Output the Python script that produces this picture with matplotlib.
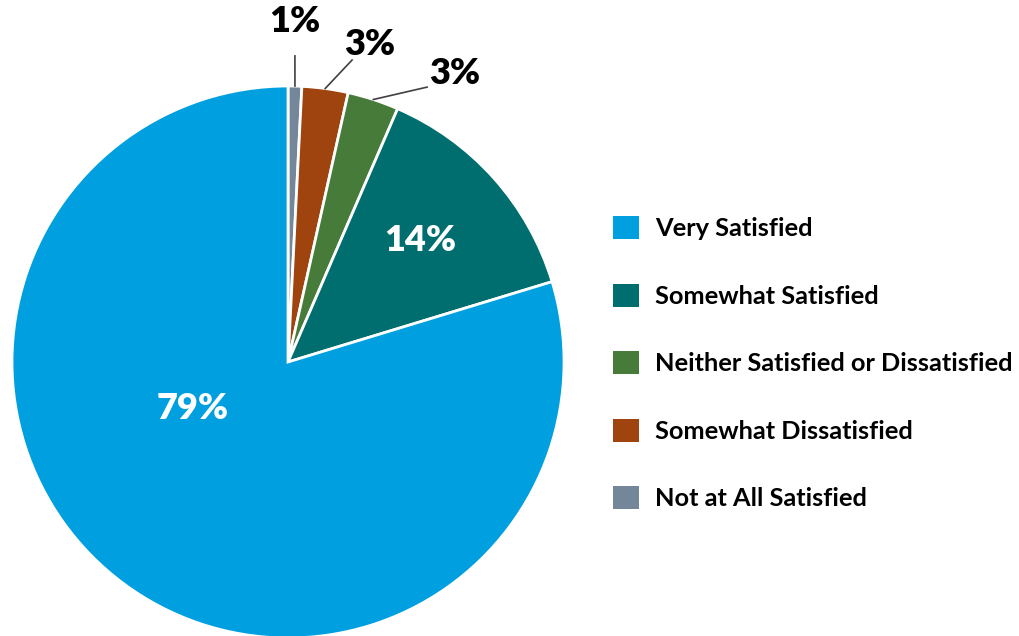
import numpy as np
import matplotlib.pyplot as plt
from matplotlib.patches import Patch

plt.rcParams['font.family'] = ['Lato', 'DejaVu Sans']

# slices in drawing order, clockwise from 12 o'clock
categories = ["Not at All Satisfied", "Somewhat Dissatisfied",
              "Neither Satisfied or Dissatisfied", "Somewhat Satisfied",
              "Very Satisfied"]
values = [0.8, 2.7, 3.0, 13.8, 79.7]
pct_labels = ["1%", "3%", "3%", "14%", "79%"]
colors = ["#74879a", "#a0440f", "#467b3a", "#006e6e", "#00a0e0"]

legend_order = ["Very Satisfied", "Somewhat Satisfied",
                "Neither Satisfied or Dissatisfied", "Somewhat Dissatisfied",
                "Not at All Satisfied"]

fig = plt.figure(figsize=(10.2, 6.36), dpi=100)
ax = fig.add_axes([0, 0, 1, 1])

wedges, _ = ax.pie(values, colors=colors, startangle=90, counterclock=False,
                   radius=1.0, center=(0, 0),
                   wedgeprops=dict(edgecolor="white", linewidth=2))

ax.set_xlim(-1.0435, 2.652)
ax.set_ylim(-0.9928, 1.3116)
ax.set_aspect("auto")
ax.axis("off")

# inside labels (white) for the big slices, callouts for the small ones
inside_pos = {3: (0.478, 0.442), 4: (-0.344, -0.167)}
callout_text = {0: (0.025, 1.232), 1: (0.297, 1.149), 2: (0.605, 1.047)}
callout_line_end = {0: (0.025, 1.109), 1: (0.232, 1.094), 2: (0.504, 0.996)}

for i, w in enumerate(wedges):
    if i in inside_pos:
        ax.text(*inside_pos[i], pct_labels[i], color="white", fontsize=26,
                fontweight="heavy", ha="center", va="center")
    else:
        mid = np.deg2rad((w.theta1 + w.theta2) / 2)
        start = (np.cos(mid) * 1.0, np.sin(mid) * 1.0)
        ex, ey = callout_line_end[i]
        ax.plot([start[0], ex], [start[1], ey], color="#404040", lw=1.2)
        ax.text(*callout_text[i], pct_labels[i], color="black", fontsize=26,
                fontweight="heavy", ha="center", va="center")

handles = [Patch(facecolor=colors[categories.index(c)], edgecolor="none")
           for c in legend_order]
leg = fig.legend(handles, legend_order, loc="upper left",
                 bbox_to_anchor=(0.601, 0.660), frameon=False,
                 prop=dict(family="Lato", weight="bold", size=18.3),
                 handlelength=1.02, handleheight=1.02, handletextpad=0.62,
                 labelspacing=1.7, borderpad=0, borderaxespad=0)

fig.savefig("out.png", dpi=100)
